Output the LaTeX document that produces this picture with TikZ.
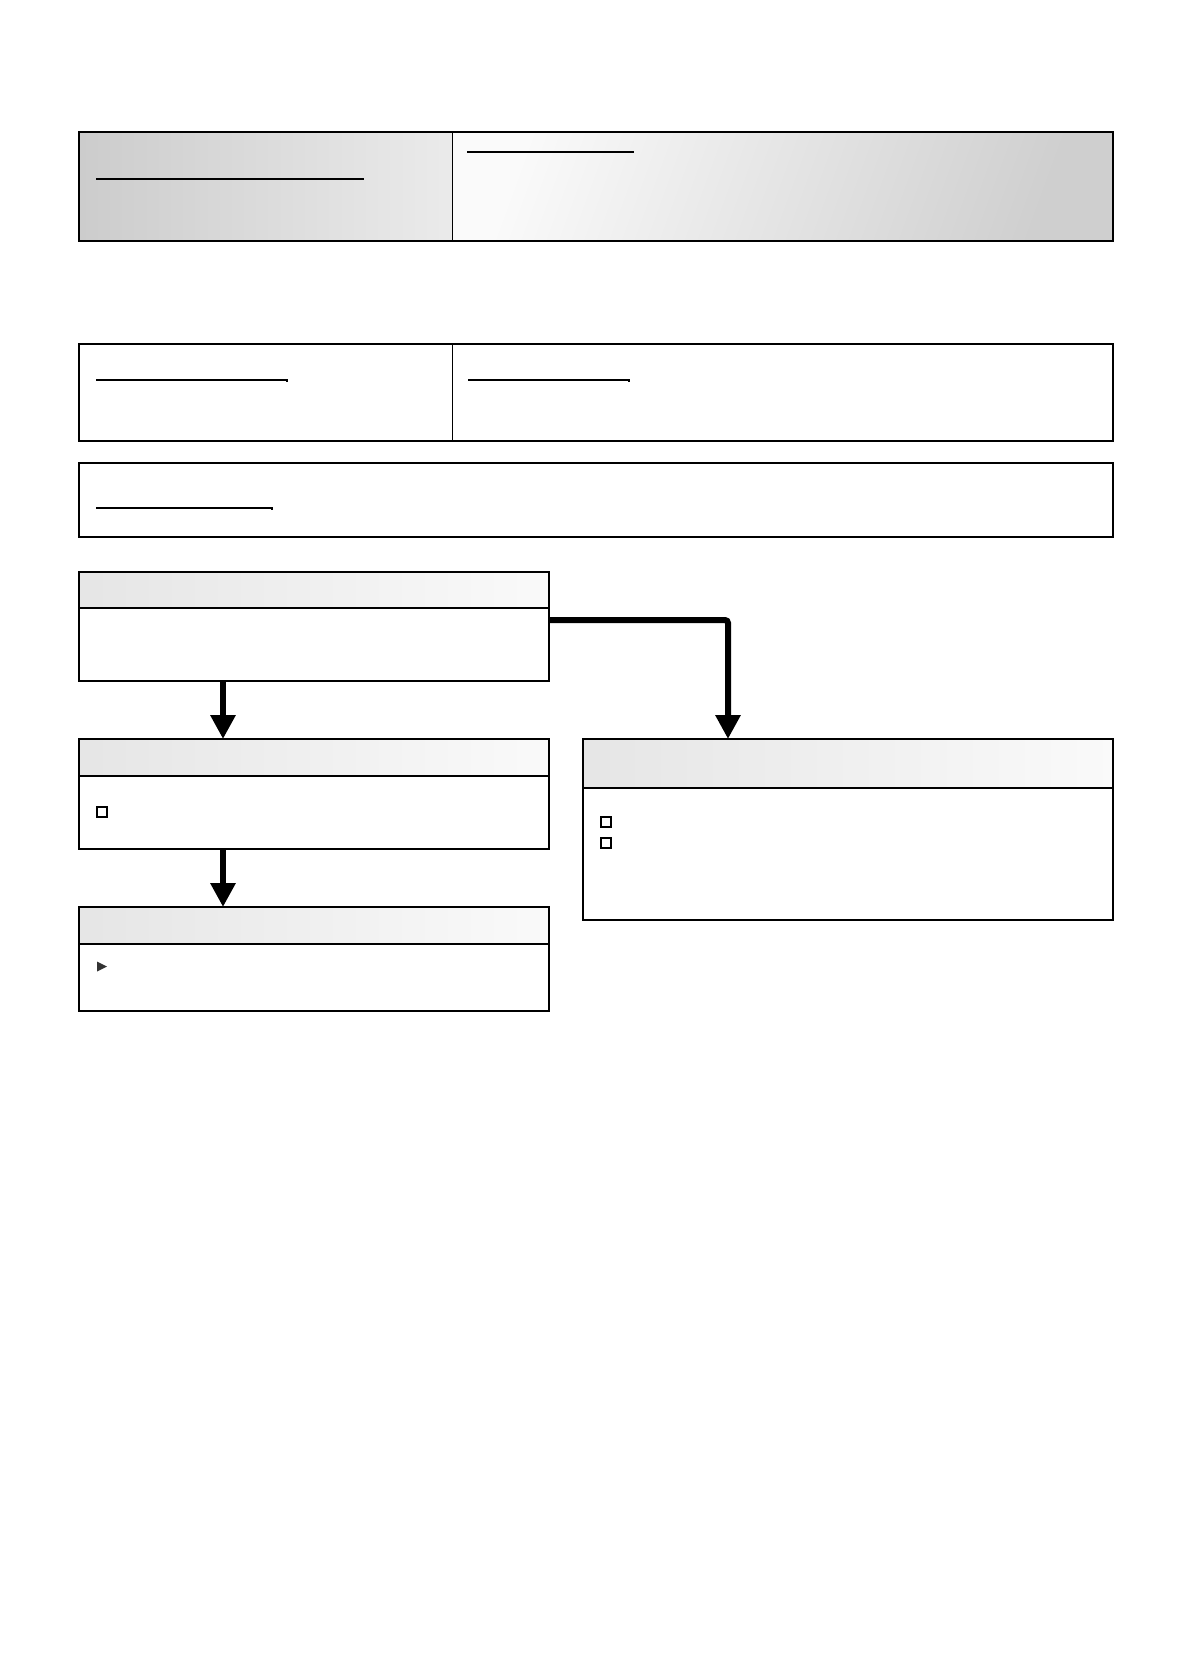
\documentclass[tikz,border=0pt]{standalone}
\usetikzlibrary{arrows.meta,positioning}

\tikzset{
  every node/.style={outer sep=0pt},
  cell/.style={draw, line width=0.9pt, inner sep=0pt, anchor=north west},
  headbar/.style={draw, line width=1.6pt, inner sep=0pt, anchor=north west,
    left color=gray!20, right color=gray!4},
  flowbox/.style={draw, line width=1.6pt, inner sep=0pt, anchor=north west, fill=white},
  rule/.style={line width=1.5pt},
  tickbox/.style={draw, line width=2.6pt, fill=white, inner sep=0pt, minimum size=10pt},
  flow/.style={line width=6pt, -{Triangle[width=24pt,length=24pt]}}
}

\begin{document}
\begin{tikzpicture}[x=1pt,y=-1pt]
	\useasboundingbox[fill=white] (0,0) rectangle (1184,1680);
	% title block
	\node[cell, minimum width=373pt, minimum height=109pt,
	  left color=gray!40, right color=gray!16] (topL) at (79,132) {};
	\node[cell, minimum width=661pt, minimum height=109pt,
	  left color=gray!4, right color=gray!38, shading angle=70] (topR) at (topL.north east) {};
	\draw[line width=2pt] (topL.north west) rectangle (topR.south east);
	\draw[rule] (96,179) -- (363,179) -- ++(0,1.5);
	\draw[rule] (467,152) -- (633,152) -- ++(0,1.5);
	% second row
	\node[cell, minimum width=373pt, minimum height=97pt] (midL) at (79,344) {};
	\node[cell, minimum width=661pt, minimum height=97pt] (midR) at (midL.north east) {};
	\draw[line width=1.6pt] (midL.north west) rectangle (midR.south east);
	\draw[rule] (96,380) -- (287,380) -- ++(0,1.5);
	\draw[rule] (468,380) -- (629,380) -- ++(0,1.5);
	\node[cell, line width=1.6pt, minimum width=1034pt, minimum height=74pt] (note) at (79,463) {};
	\draw[rule] (96,508) -- (272,508) -- ++(0,1.5);
	% flow boxes
	\node[flowbox, minimum width=470pt, minimum height=109pt] (boxA) at (79,572) {};
	\node[headbar, minimum width=470pt, minimum height=36pt] (headA) at (boxA.north west) {};
	\node[flowbox, minimum width=470pt, minimum height=110pt] (boxB) at (79,739) {};
	\node[headbar, minimum width=470pt, minimum height=37pt] (headB) at (boxB.north west) {};
	\node[flowbox, minimum width=470pt, minimum height=104pt] (boxC) at (79,907) {};
	\node[headbar, minimum width=470pt, minimum height=37pt] (headC) at (boxC.north west) {};
	\node[flowbox, minimum width=530pt, minimum height=181pt] (boxD) at (583,739) {};
	\node[headbar, minimum width=530pt, minimum height=49pt] (headD) at (boxD.north west) {};
	% bullets
	\node[tickbox] (chkB) at (102,812) {};
	\node[tickbox] (chkD1) at (606,822) {};
	\node[tickbox] (chkD2) at (606,843) {};
	\fill[black!80] (97,961.5) -- (107,966.5) -- (97,971.5) -- cycle;
	% connectors
	\draw[flow] ([xshift=144pt]boxA.south west) -- ([xshift=144pt]boxB.north west);
	\draw[flow] ([xshift=144pt]boxB.south west) -- ([xshift=144pt]boxC.north west);
	\draw[flow, rounded corners=3pt] ([yshift=-48pt]boxA.north east) -| ([xshift=145pt]boxD.north west);
\end{tikzpicture}
\end{document}
